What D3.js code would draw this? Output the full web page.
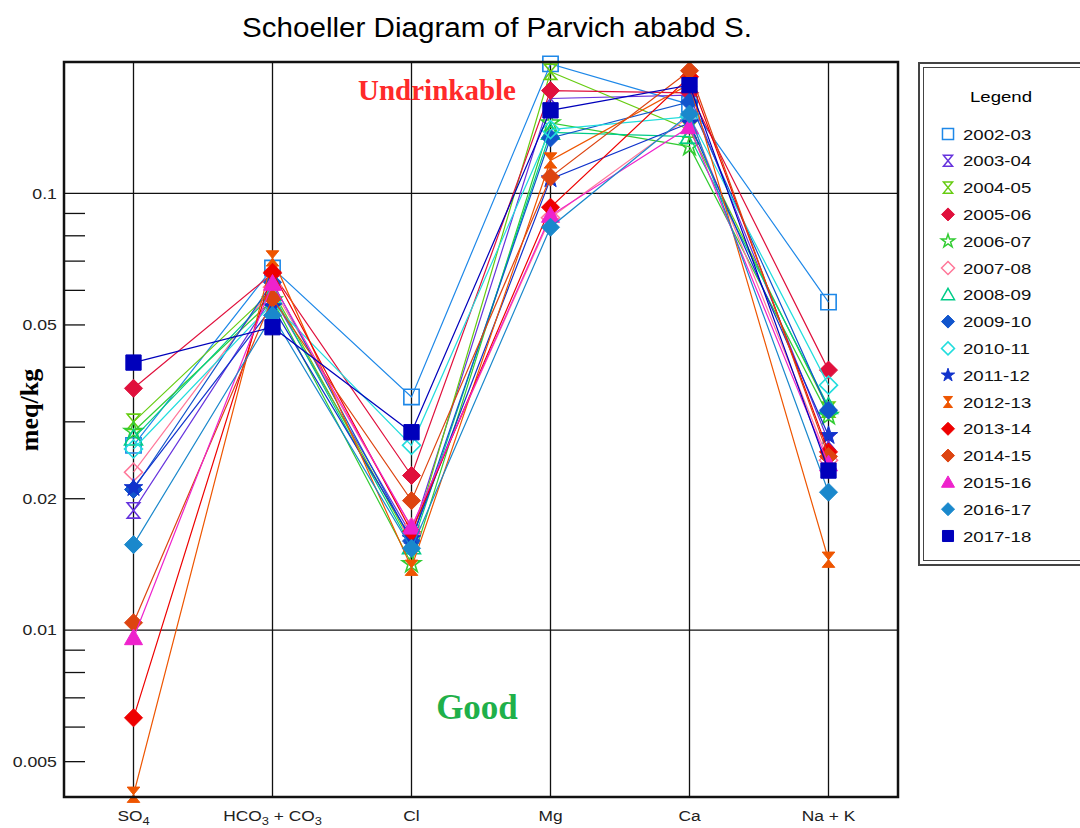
<!DOCTYPE html>
<html><head><meta charset="utf-8">
<script src="https://cdn.jsdelivr.net/npm/d3@7"></script>
<style>body{margin:0;background:#fff}svg{display:block}</style>
</head><body>
<svg id="c" width="1080" height="828"></svg>
<script>
// ---------- data ----------
const categories = ["SO4", "HCO3 + CO3", "Cl", "Mg", "Ca", "Na + K"];
const seriesNames = ["2002-03","2003-04","2004-05","2005-06","2006-07","2007-08","2008-09","2009-10",
  "2010-11","2011-12","2012-13","2013-14","2014-15","2015-16","2016-17","2017-18"];
const v2002_03 = [0.0265, 0.0675, 0.0342, 0.198, 0.160, 0.0564];
const v2003_04 = [0.0188, 0.0580, 0.0165, 0.165, 0.168, 0.0270];
const v2004_05 = [0.0300, 0.0600, 0.0158, 0.190, 0.140, 0.0320];
const v2005_06 = [0.0358, 0.0656, 0.0226, 0.172, 0.170, 0.0394];
const v2006_07 = [0.0285, 0.0570, 0.0142, 0.145, 0.128, 0.0310];
const v2007_08 = [0.0230, 0.0610, 0.0172, 0.088, 0.150, 0.0245];
const v2008_09 = [0.0275, 0.0590, 0.0155, 0.138, 0.135, 0.0325];
const v2009_10 = [0.0210, 0.0626, 0.0160, 0.134, 0.162, 0.0319];
const v2010_11 = [0.0260, 0.0560, 0.0265, 0.140, 0.150, 0.0364];
const v2011_12 = [0.0212, 0.0550, 0.0162, 0.108, 0.145, 0.0279];
const v2012_13 = [0.0042, 0.0710, 0.0139, 0.119, 0.178, 0.0145];
const v2013_14 = [0.0063, 0.0660, 0.0168, 0.093, 0.185, 0.0256];
const v2014_15 = [0.0104, 0.0575, 0.0198, 0.109, 0.191, 0.0250];
const v2015_16 = [0.0096, 0.0622, 0.0172, 0.089, 0.142, 0.0240];
const v2016_17 = [0.0157, 0.0526, 0.0154, 0.0837, 0.152, 0.0207];
const v2017_18 = [0.0410, 0.0494, 0.0284, 0.155, 0.177, 0.0232];
const yTickValues = [0.1, 0.05, 0.02, 0.01, 0.005];
const yTickLabels = ["0.1", "0.05", "0.02", "0.01", "0.005"];
const yMinorTicks = [0.09,0.08,0.07,0.06,0.05,0.04,0.03,0.02,0.009,0.008,0.007,0.006,0.005];
const yGridValues = [0.1, 0.01];

// ---------- styles ----------
const seriesValues = [v2002_03,v2003_04,v2004_05,v2005_06,v2006_07,v2007_08,v2008_09,v2009_10,
  v2010_11,v2011_12,v2012_13,v2013_14,v2014_15,v2015_16,v2016_17,v2017_18];
const colors = ["#1e88e8","#6633dd","#66cc11","#e0103c","#33cc33","#ff7799","#00cc88","#1155cc",
  "#22dddd","#1133cc","#ee5500","#ee0000","#dd4411","#ee22cc","#1a88cc","#0000bb"];
const shapes = ["square","hourglass","hourglass","diamond","star","diamond","triangle","diamond",
  "diamond","star","hourglass","diamond","diamond","triangle","diamond","square"];
const filled = [false,false,false,true,false,false,false,true,false,true,true,true,true,true,true,true];

const svg = d3.select("#c");
const X0 = 64, X1 = 898, Y0 = 62, Y1 = 797;
const SX = 1.18; // horizontal stretch of the reference's text
const x = d3.scalePoint().domain(categories).range([X0, X1]).padding(0.5);
const y = d3.scaleLog().domain([0.00415, 0.2]).range([Y1, Y0]);

function shapePath(shape, s) {
  if (shape === "square") return `M${-s*0.85},${-s*0.85}H${s*0.85}V${s*0.85}H${-s*0.85}Z`;
  if (shape === "diamond") return `M0,${-s}L${s},0L0,${s}L${-s},0Z`;
  if (shape === "hourglass") return `M${-s*0.7},${-s*0.85}H${s*0.7}L${-s*0.7},${s*0.85}H${s*0.7}Z`;
  if (shape === "triangle") return `M0,${-s}L${s},${s*0.75}L${-s},${s*0.75}Z`;
  if (shape === "star") return d3.symbol(d3.symbolStar, s*s*1.3)();
}

// title
svg.append("text").attr("x", 497).attr("y", 37).attr("text-anchor","middle")
  .attr("textLength", 510).attr("lengthAdjust","spacingAndGlyphs")
  .style("font-family","Liberation Sans, Arial").style("font-size","27px").text("Schoeller Diagram of Parvich ababd S.");

// plot background lines
const g = svg.append("g");
g.selectAll(".vline").data(categories).join("line")
  .attr("x1", d => x(d)).attr("x2", d => x(d)).attr("y1", Y0).attr("y2", Y1)
  .attr("stroke","#111").attr("stroke-width",1.3);
g.selectAll(".hgrid").data(yGridValues).join("line")
  .attr("x1", X0).attr("x2", X1).attr("y1", d => y(d)).attr("y2", d => y(d))
  .attr("stroke","#111").attr("stroke-width",1.3);
g.selectAll(".minor").data(yMinorTicks).join("line")
  .attr("x1", X0).attr("x2", X0 + 21).attr("y1", d => y(d)).attr("y2", d => y(d))
  .attr("stroke","#111").attr("stroke-width",1.3);

// y axis labels
const yAxis = d3.axisLeft(y).tickValues(yTickValues).tickSize(0).tickPadding(6)
  .tickFormat((d,i) => yTickLabels[i]);
const ya = svg.append("g").attr("transform", `translate(${X0},0)`).call(yAxis);
ya.select(".domain").remove();
ya.selectAll("text").style("font-family","Liberation Sans, Arial").style("font-size","15px")
  .attr("fill","#222").attr("transform", `scale(${SX},1)`);

// x labels with subscripts
const xl = svg.append("g").style("font-family","Liberation Sans, Arial").style("font-size","15.5px");
function xlab(t, parts) {
  const tx = xl.append("text").attr("transform", `translate(${x(t)},821) scale(1.12,1)`).attr("text-anchor","middle").attr("fill","#222");
  parts.forEach(p => {
    if (p[1]) tx.append("tspan").attr("dy", 4).style("font-size","11.5px").text(p[0]);
    else tx.append("tspan").attr("dy", p[2] || 0).text(p[0]);
  });
}
xlab("SO4", [["SO"],["4",true]]);
xlab("HCO3 + CO3", [["HCO"],["3",true],[" + CO",false,-4],["3",true]]);
xlab("Cl", [["Cl"]]);
xlab("Mg", [["Mg"]]);
xlab("Ca", [["Ca"]]);
xlab("Na + K", [["Na + K"]]);

// y title
svg.append("text").attr("transform","translate(38,410) rotate(-90)").attr("text-anchor","middle")
  .style("font-family","Liberation Serif, Times New Roman").style("font-weight","bold").style("font-size","26px")
  .text("meq/kg");

// zone labels
svg.append("text").attr("x", 437).attr("y", 100).attr("text-anchor","middle")
  .style("font-family","Liberation Serif").style("font-weight","bold").style("font-size","29px")
  .attr("fill","#ff2a2a").text("Undrinkable");
svg.append("text").attr("x", 477).attr("y", 719).attr("text-anchor","middle")
  .style("font-family","Liberation Serif").style("font-weight","bold").style("font-size","35px")
  .attr("fill","#1fb04a").text("Good");

// series
const line = d3.line().x((d,i) => x(categories[i])).y(d => y(d));
const sg = svg.append("g");
seriesValues.forEach((vals, k) => {
  const gg = sg.append("g");
  gg.append("path").attr("d", line(vals)).attr("fill","none").attr("stroke", colors[k]).attr("stroke-width",1.2);
  gg.selectAll("path.m").data(vals).join("path").attr("class","m")
    .attr("transform", (d,i) => `translate(${x(categories[i])},${y(d)})`)
    .attr("d", shapePath(shapes[k], 9))
    .attr("fill", filled[k] ? colors[k] : "none")
    .attr("stroke", colors[k]).attr("stroke-width", filled[k] ? 1 : 1.6);
});

// frame
svg.append("rect").attr("x", X0).attr("y", Y0).attr("width", X1 - X0).attr("height", Y1 - Y0)
  .attr("fill","none").attr("stroke","#111").attr("stroke-width",2.5);

// legend
const L = svg.append("g");
L.append("rect").attr("x", 919).attr("y", 63).attr("width", 180).attr("height", 502)
  .attr("fill","#fff").attr("stroke","#444").attr("stroke-width",2);
L.append("rect").attr("x", 923.5).attr("y", 67.5).attr("width", 180).attr("height", 493)
  .attr("fill","none").attr("stroke","#444").attr("stroke-width",1);
L.append("text").attr("transform", "translate(1001,102) scale(1.2,1)").attr("text-anchor","middle")
  .style("font-family","Liberation Sans, Arial").style("font-size","15.5px").text("Legend");
seriesNames.forEach((n, k) => {
  const cy = 134 + k * 26.8;
  L.append("path").attr("transform", `translate(948,${cy})`).attr("d", shapePath(shapes[k], 6.5))
    .attr("fill", filled[k] ? colors[k] : "none").attr("stroke", colors[k]).attr("stroke-width", filled[k] ? 1 : 1.5);
  L.append("text").attr("transform", `translate(963,${cy + 5.5}) scale(1.2,1)`)
    .style("font-family","Liberation Sans, Arial").style("font-size","15.5px").attr("fill","#111").text(n);
});
</script>
</body></html>
